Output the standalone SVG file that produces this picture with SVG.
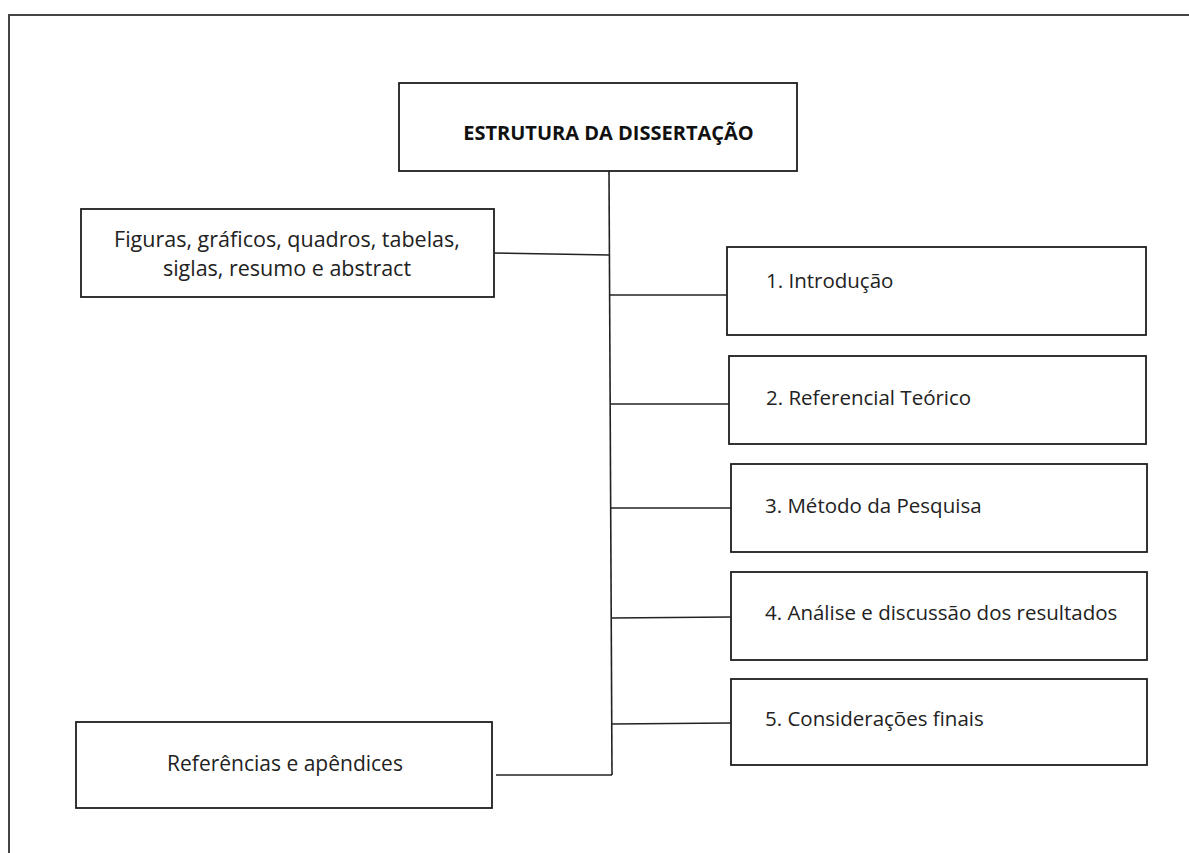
<svg xmlns="http://www.w3.org/2000/svg" width="1189" height="853" viewBox="0 0 1189 853">
<style>
.box{fill:#fff;stroke:#1e1e1e;stroke-width:1.8}
.con line{stroke:#222;stroke-width:1.6;fill:none}
.t{font-family:"Open Sans","Liberation Sans",sans-serif;font-size:20.5px;fill:#222}
.tl{font-size:21.5px}
.tr{font-size:21px}
.tb{font-family:"Open Sans","Liberation Sans",sans-serif;font-size:20px;font-weight:bold;fill:#111}
</style>
<rect x="0" y="0" width="1189" height="853" fill="#fff"/>
<path d="M9 853 V15 H1189" fill="none" stroke="#444" stroke-width="2"/>
<g class="con">
<line x1="609" y1="171" x2="612" y2="775"/>
<line x1="494" y1="253" x2="609" y2="255"/>
<line x1="609" y1="295" x2="727" y2="295"/>
<line x1="610" y1="404" x2="729" y2="404"/>
<line x1="610" y1="508" x2="731" y2="508"/>
<line x1="611" y1="618" x2="731" y2="617"/>
<line x1="611" y1="724" x2="731" y2="723"/>
<line x1="496" y1="775" x2="612" y2="775"/>
</g>
<g id="title"><rect class="box" x="399" y="83" width="398" height="88"/><text class="tb" x="608.5" y="140" text-anchor="middle">ESTRUTURA DA DISSERTAÇÃO</text></g>
<g id="figuras"><rect class="box" x="81" y="209" width="413" height="88"/><text class="t tl" x="287" y="247" text-anchor="middle">Figuras, gráficos, quadros, tabelas,</text><text class="t tl" x="287" y="276" text-anchor="middle">siglas, resumo e abstract</text></g>
<g id="intro"><rect class="box" x="727" y="247" width="419" height="88"/><text class="t" x="766" y="288">1. Introdução</text></g>
<g id="referencial"><rect class="box" x="729" y="356" width="417" height="88"/><text class="t" x="766" y="405">2. Referencial Teórico</text></g>
<g id="metodo"><rect class="box" x="731" y="464" width="416" height="88"/><text class="t" x="765" y="513">3. Método da Pesquisa</text></g>
<g id="analise"><rect class="box" x="731" y="572" width="416" height="88"/><text class="t" x="765" y="620">4. Análise e discussão dos resultados</text></g>
<g id="consideracoes"><rect class="box" x="731" y="679" width="416" height="86"/><text class="t" x="765" y="726">5. Considerações finais</text></g>
<g id="referencias"><rect class="box" x="76" y="722" width="416" height="86"/><text class="t tr" x="285" y="771" text-anchor="middle">Referências e apêndices</text></g>
</svg>
